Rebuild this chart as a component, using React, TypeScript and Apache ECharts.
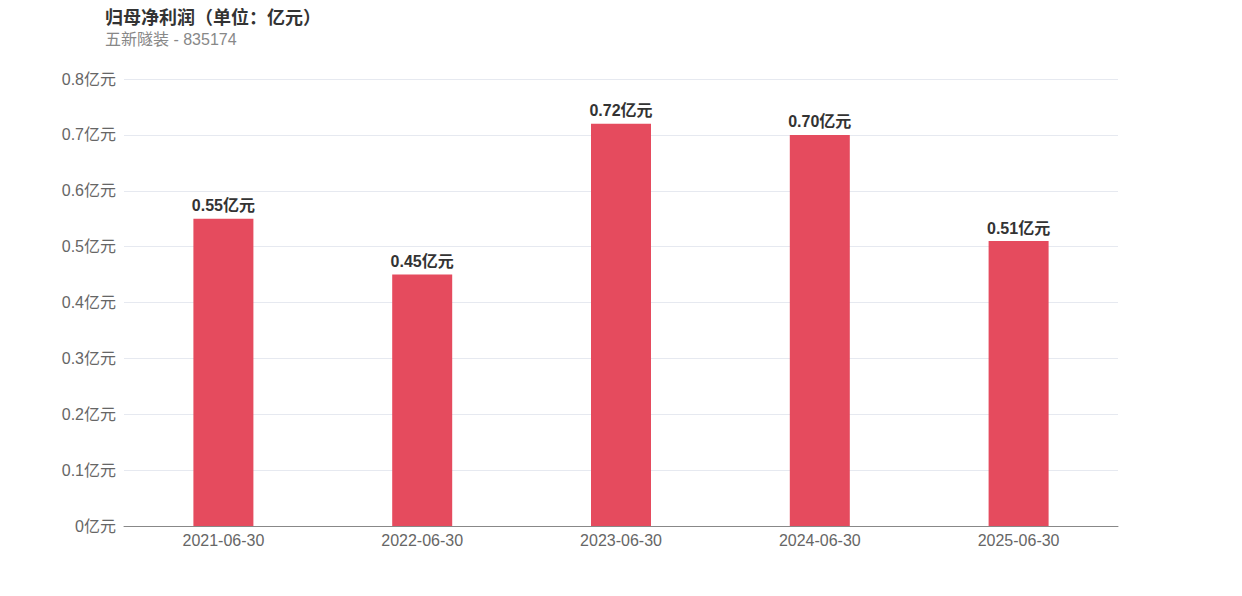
import React, { useEffect, useRef } from "react";
import * as echarts from "echarts";

const categories = ["2021-06-30", "2022-06-30", "2023-06-30", "2024-06-30", "2025-06-30"];
const values = [0.55, 0.45, 0.72, 0.7, 0.51];
const titleText = "归母净利润（单位：亿元）";
const subText = "五新隧装 - 835174";

const FONT = "Liberation Sans, Noto Sans CJK SC, sans-serif";

export default function App() {
  const ref = useRef<HTMLDivElement>(null);
  useEffect(() => {
    const chart = echarts.init(ref.current!, undefined, { renderer: "svg" });
    chart.setOption({
      animation: false,
      title: {
        text: titleText,
        subtext: subText,
        left: 105,
        top: 9,
        padding: 0,
        itemGap: 5,
        textStyle: { fontSize: 18, fontWeight: "bold", color: "#333", fontFamily: FONT },
        subtextStyle: { fontSize: 16, color: "#888", fontFamily: FONT },
      },
      grid: { left: 124, right: 124, top: 79, bottom: 70 },
      xAxis: {
        type: "category",
        data: categories,
        axisTick: { show: false },
        axisLine: { lineStyle: { color: "#888" } },
        axisLabel: { color: "#666", fontSize: 16, margin: 6, fontFamily: FONT },
      },
      yAxis: {
        type: "value",
        min: 0,
        max: 0.8,
        interval: 0.1,
        axisLabel: {
          color: "#666",
          fontSize: 16,
          margin: 8,
          fontFamily: FONT,
          formatter: (v: number) => `${Math.round(v * 10) / 10}亿元`,
        },
        splitLine: { lineStyle: { color: "#e6e9f0" } },
      },
      series: [
        {
          type: "bar",
          data: values,
          barWidth: 60,
          itemStyle: { color: "#E54B5E" },
          label: {
            show: true,
            position: "top",
            distance: 5,
            color: "#333",
            fontSize: 16,
            fontWeight: "bold",
            fontFamily: FONT,
            formatter: (p: any) => `${p.value.toFixed(2)}亿元`,
          },
        },
      ],
    });
    return () => chart.dispose();
  }, []);
  return <div ref={ref} style={{ width: 1242, height: 596, margin: "-8px 0 0 -8px" }} />;
}
